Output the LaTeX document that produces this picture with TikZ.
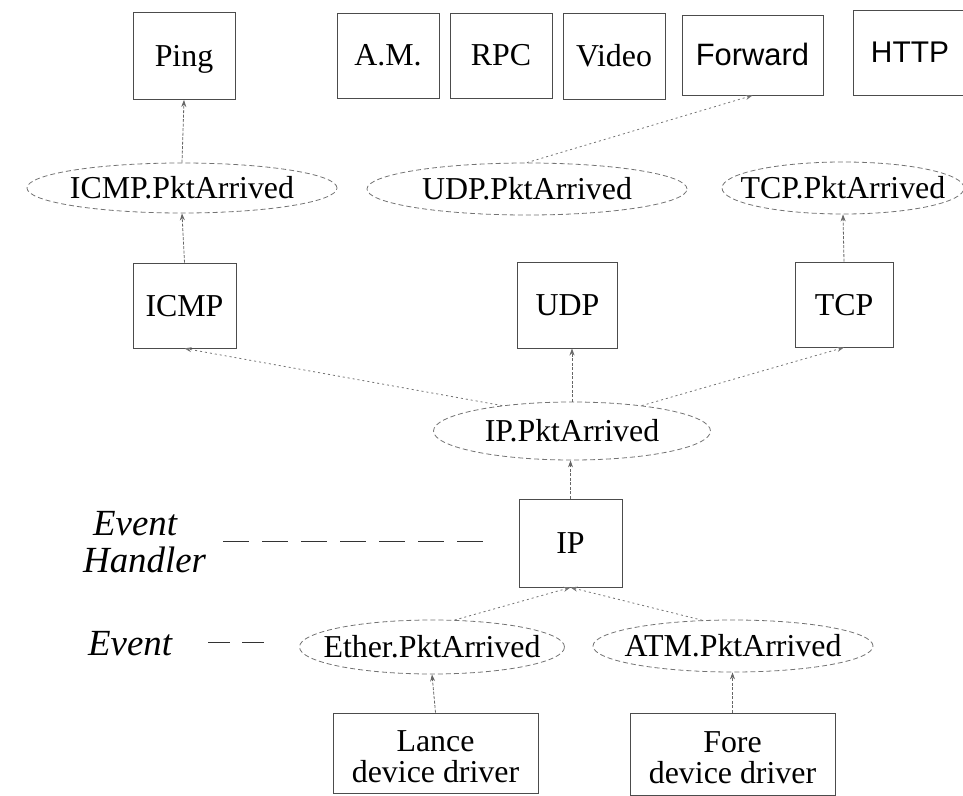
\documentclass[tikz,border=0pt]{standalone}
\usepackage{fontspec}
\setmainfont{Liberation Serif}
\newfontfamily\arialfont{Liberation Sans}
\usetikzlibrary{shapes.geometric,arrows.meta}
\tikzset{
  every node/.style={font=\fontsize{32}{31}\selectfont, inner sep=0pt, text height=28bp, text depth=7bp},
  boxnode/.style={draw=black!70, line width=0.9bp, rectangle},
  drvnode/.style={boxnode, align=center, text height=65bp, text depth=7bp},
  ellnode/.style={draw=black!55, line width=0.8bp, ellipse, dash pattern=on 5bp off 3bp},
  link/.style={draw=black!60, line width=0.8bp, dash pattern=on 3bp off 1.5bp, -{Stealth[length=7bp,width=5bp]}},
  slantlink/.style={draw=black!55, line width=0.8bp, dash pattern=on 2bp off 3bp, -{Stealth[length=7bp,width=5bp]}},
  legline/.style={draw=black!80, line width=1bp, dash pattern=on 26bp off 13bp},
  legtext/.style={font=\fontsize{37}{37}\selectfont\itshape, align=left, text height=27bp, text depth=9bp}
}
\begin{document}
\begin{tikzpicture}[x=1bp,y=-1bp]
\useasboundingbox (0,0) rectangle (963,796);
% top row
\node[boxnode, minimum width=102bp, minimum height=87bp] (ping) at (184,56) {Ping};
\node[boxnode, minimum width=102bp, minimum height=85bp] (am) at (388,55.5) {A.M.};
\node[boxnode, minimum width=102bp, minimum height=85bp] (rpc) at (501,55.5) {RPC};
\node[boxnode, minimum width=102bp, minimum height=86bp] (video) at (614,56) {Video};
\node[boxnode, minimum width=141bp, minimum height=80bp, font=\fontsize{31}{32}\selectfont\arialfont] (forward) at (752.5,55) {Forward};
\node[boxnode, minimum width=114bp, minimum height=85bp, font=\fontsize{30}{32}\selectfont\arialfont] (http) at (910,52.5) {HTTP};
% event ellipses row 1
\node[ellnode, minimum width=310bp, minimum height=50bp] (icmppa) at (182,188) {\makebox[0pt]{ICMP.PktArrived}};
\node[ellnode, minimum width=320bp, minimum height=52bp] (udppa) at (527,189) {\makebox[0pt]{UDP.PktArrived}};
\node[ellnode, minimum width=242bp, minimum height=52bp] (tcppa) at (843,188) {\makebox[0pt]{TCP.PktArrived}};
% protocol boxes
\node[boxnode, minimum width=103bp, minimum height=85bp] (icmp) at (184.5,305.5) {ICMP};
\node[boxnode, minimum width=100bp, minimum height=86bp] (udp) at (567.5,305) {UDP};
\node[boxnode, minimum width=98bp, minimum height=85bp] (tcp) at (844,304.5) {TCP};
% IP
\node[ellnode, minimum width=277bp, minimum height=58bp] (ippa) at (572,431) {\makebox[0pt]{IP.PktArrived}};
\node[boxnode, minimum width=103bp, minimum height=88bp] (ip) at (570.5,543) {IP};
% lower events
\node[ellnode, minimum width=265bp, minimum height=54bp] (ether) at (432,647) {\makebox[0pt]{Ether.PktArrived}};
\node[ellnode, minimum width=280bp, minimum height=52bp] (atm) at (733,646) {\makebox[0pt]{ATM.PktArrived}};
% drivers
\node[drvnode, minimum width=205bp, minimum height=80bp] (lance) at (435.5,753) {Lance\\device driver};
\node[drvnode, minimum width=205bp, minimum height=82bp] (fore) at (732.5,754) {Fore\\device driver};
% legend
\node[legtext, anchor=west, text height=64bp] (evh) at (83,544.5) {\hspace*{10bp}Event\\Handler};
\node[legtext, anchor=west] (ev) at (88,646) {Event};
\coordinate (evhA) at (223,541);
\coordinate (evhB) at (493,541);
\coordinate (evA) at (208,642);
\coordinate (evB) at (273,642);
\draw[legline] (evhA) -- (evhB);
\draw[legline, dash pattern=on 22bp off 12bp] (evA) -- (evB);
% connectors
\draw[link] (icmppa.north) -- (ping.south);
\draw[link] (icmp.north) -- (icmppa.south);
\draw[slantlink] (udppa.north) -- (forward.south);
\draw[link] (tcp.north) -- (tcppa.south);
\draw[link] (ippa.north) -- (ippa.north |- udp.south);
\draw[slantlink] (ippa.160) -- (icmp.south);
\draw[slantlink] (ippa.20) -- (tcp.south);
\draw[link] (ip.north) -- (ip.north |- ippa.south);
\draw[slantlink] (ether.50) -- (ip.south);
\draw[slantlink] (atm.140) -- (ip.south);
\draw[link] (lance.north) -- (ether.south);
\draw[link] (fore.north) -- (fore.north |- atm.south);
\end{tikzpicture}
\end{document}
